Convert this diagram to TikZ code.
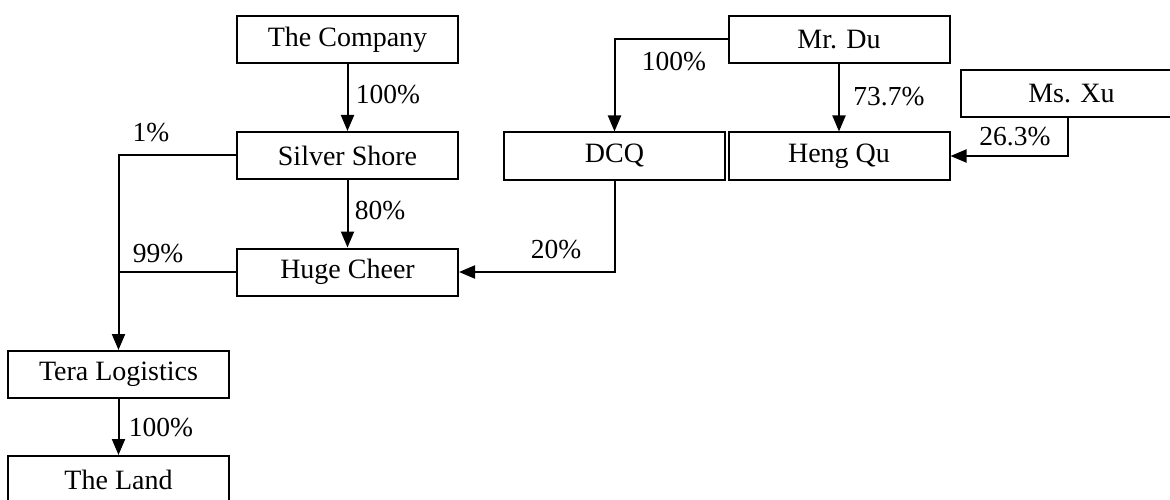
\documentclass[tikz,border=0pt]{standalone}
\usepackage{fontspec}
\setmainfont{Liberation Serif}
\usetikzlibrary{arrows.meta}
\tikzset{
  box/.style={draw, line width=2pt, minimum width=221pt, minimum height=47pt, inner sep=0pt, font=\fontsize{28}{30}\selectfont},
  lbl/.style={inner sep=0pt, font=\fontsize{27.5}{30}\selectfont},
  conn/.style={line width=2pt},
  arr/.style={line width=2pt, -{Triangle[length=16pt,width=13pt]}}
}
\begin{document}
\begin{tikzpicture}[x=1pt,y=-1pt]
\useasboundingbox (0,0) rectangle (1170,500);
\clip (0,0) rectangle (1170,500);
\node[box] (company) at (347.5,39.5) {The Company};
\node[box] (silver) at (347.5,155.5) {Silver Shore};
\node[box] (huge) at (347.5,272) {Huge Cheer};
\node[box] (tera) at (118.5,374.5) {Tera Logistics};
\node[box] (land) at (118.5,479.5) {The Land};
\node[box] (mrdu) at (839,39.5) {Mr. Du};
\node[box] (dcq) at (614.5,156) {DCQ};
\node[box] (hengqu) at (839,156) {Heng Qu};
\node[box] (msxu) at (1071.5,93.5) {Ms. Xu};

\coordinate (xuout) at ([xshift=-3.5pt]msxu.south);

\draw[arr] (company) -- (silver);
\draw[arr] (silver) -- (huge);
\draw[arr] (tera) -- (land);
\draw[arr] (mrdu) -- (hengqu);
\draw[arr] (mrdu.west) -| (dcq.north);
\draw[arr] (dcq.south) |- (huge.east);
\draw[arr] (silver.west) -| (tera.north);
\draw[conn] (huge.west) -- (huge.west -| tera.north);
\draw[arr] (xuout) |- (hengqu.east);

\node[lbl] (l1) at (388,95) {100\%};
\node[lbl] (l2) at (151,133) {1\%};
\node[lbl] (l3) at (380,211) {80\%};
\node[lbl] (l4) at (158,254) {99\%};
\node[lbl] (l5) at (556,250) {20\%};
\node[lbl] (l6) at (674,62) {100\%};
\node[lbl] (l7) at (889,97) {73.7\%};
\node[lbl] (l8) at (1015,137) {26.3\%};
\node[lbl] (l9) at (161,428) {100\%};
\end{tikzpicture}
\end{document}
